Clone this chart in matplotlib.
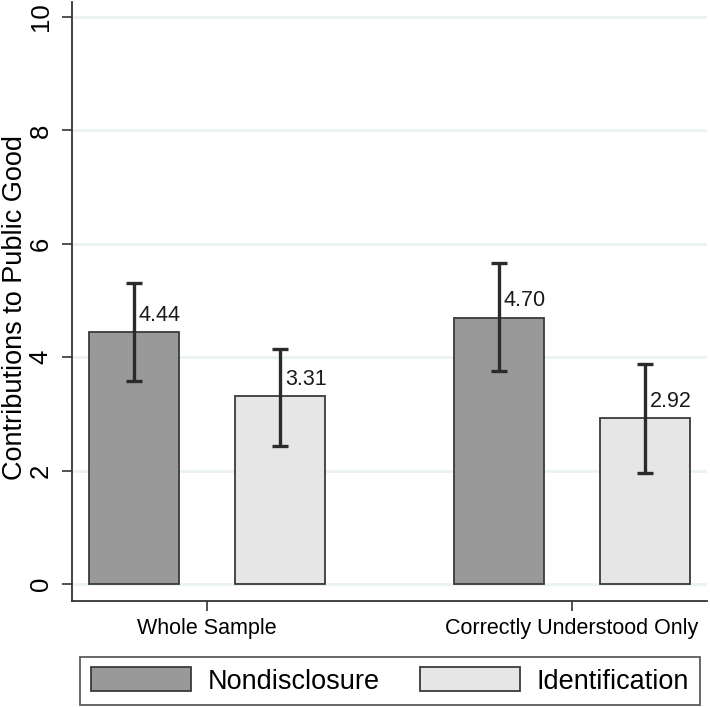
# bar chart of public good contributions, Stata-ish look

import numpy as np
import matplotlib.pyplot as plt
from matplotlib.patches import Patch

plt.rcParams['font.family'] = ['Liberation Sans', 'DejaVu Sans']

groups = ['Whole Sample', 'Correctly Understood Only']
treatments = ['Nondisclosure', 'Identification']
means = np.array([[4.44, 4.70],   # Nondisclosure
                  [3.31, 2.92]])  # Identification
ci_low = np.array([[3.58, 3.76],
                   [2.43, 1.95]])
ci_high = np.array([[5.30, 5.67],
                    [4.15, 3.88]])
labels = [['4.44', '4.70'], ['3.31', '2.92']]

colors = ['#999999', '#e6e6e6']
edge = '#3a3a3a'
grid_col = '#eaf2f3'

fig = plt.figure(figsize=(7.10, 7.07), dpi=100)
ax = fig.add_axes([72/710, 106/707, 635/710, 599/707])

group_pos = np.array([0.0, 2.5])
width = 0.616

for i, t in enumerate(treatments):
    x = group_pos + i
    ax.bar(x, means[i], width, color=colors[i], edgecolor=edge, linewidth=1.3, zorder=2)
    yerr = np.vstack([means[i] - ci_low[i], ci_high[i] - means[i]])
    ax.errorbar(x, means[i], yerr=yerr, fmt='none', ecolor='#2b2b2b',
                elinewidth=2.4, capsize=5.5, capthick=2.4, zorder=3)
    for xi, m, lab in zip(x, means[i], labels[i]):
        ax.annotate(lab, (xi, m), xytext=(3.5, 8), textcoords='offset points',
                    ha='left', va='baseline', fontsize=15.5, color='#1a1a1a', zorder=4)

ax.set_xlim(-0.425, 3.925)
ax.set_ylim(-0.30, 10.265)
ax.set_yticks(np.arange(0, 11, 2))
ax.set_yticklabels([str(v) for v in range(0, 11, 2)], rotation=90, va='center', fontsize=18.5)
ax.set_xticks(group_pos + 0.5)
ax.set_xticklabels(groups, fontsize=15.5)

ax.yaxis.grid(True, color=grid_col, linewidth=2, zorder=0)
ax.set_axisbelow(True)
for s in ['top', 'right']:
    ax.spines[s].set_visible(False)
for s in ['left', 'bottom']:
    ax.spines[s].set_color('#333333')
    ax.spines[s].set_linewidth(1.3)
ax.tick_params(axis='y', length=7, width=1.2, color='#333333', pad=7)
ax.tick_params(axis='x', length=7, width=1.2, color='#333333', pad=5)

ax.set_ylabel('Contributions to Public Good', fontsize=19.5)
ax.yaxis.set_label_coords(-0.07, 0.49)

handles = [Patch(facecolor=colors[i], edgecolor=edge, linewidth=1.3) for i in range(2)]
leg = fig.legend(handles, treatments, loc='center', bbox_to_anchor=(390/710, 26/707),
                 ncol=2, fontsize=19.5, frameon=True, fancybox=False,
                 handlelength=3.7, handleheight=0.96, handletextpad=0.63,
                 columnspacing=1.45, borderpad=0.4, borderaxespad=0)
leg.get_frame().set_edgecolor('#333333')
leg.get_frame().set_linewidth(1.3)

fig.savefig('out.png', dpi=100)
